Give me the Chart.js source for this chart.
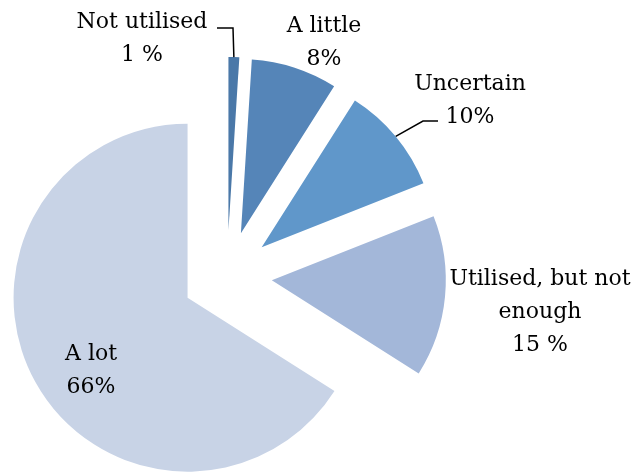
<!DOCTYPE html>
<html>
<head>
<meta charset="utf-8">
<script src="https://cdn.jsdelivr.net/npm/chart.js@4"></script>
<style>
  html, body { margin: 0; padding: 0; background: #ffffff; }
  #wrap { width: 636px; height: 472px; }
</style>
</head>
<body>
<div id="wrap"><canvas id="c" width="636" height="472"></canvas></div>
<script>
// Survey answers, in drawing order (clockwise from 12 o'clock)
const categories = ['Not utilised', 'A little', 'Uncertain', 'Utilised, but not enough', 'A lot'];
const shares = [1, 8, 10, 15, 66];
const valueLabels = ['1 %', '8%', '10%', '15 %', '66%'];
const nameLines = [['Not utilised'], ['A little'], ['Uncertain'], ['Utilised, but not', 'enough'], ['A lot']];
const sliceColors = ['#4A78A8', '#5585B8', '#6097CA', '#A3B7D9', '#C8D3E6'];

// Placement of each label block: centre x, first baseline y, optional leader-line path
const labelLayout = [
  { x: 142, y: 28, leader: [[217, 28], [233, 28]] },
  { x: 324, y: 32 },
  { x: 470, y: 90, leader: [[438, 121], [423, 121]] },
  { x: 540, y: 285 },
  { x: 91, y: 360 }
];

const EXPLODE = 45;          // distance every slice is pulled out from the centre
const LINE_HEIGHT = 33;
const FONT = '22px "DejaVu Serif", "Liberation Serif", serif';

function sliceDir(arc) {
  const mid = (arc.startAngle + arc.endAngle) / 2;
  return { cos: Math.cos(mid), sin: Math.sin(mid) };
}

// Draws each arc shifted outward along its bisector, keeping a common radius
const explodedSlices = {
  id: 'explodedSlices',
  beforeDatasetDraw(chart, args) {
    const ctx = chart.ctx;
    args.meta.data.forEach(arc => {
      const d = sliceDir(arc);
      ctx.save();
      ctx.translate(d.cos * EXPLODE, d.sin * EXPLODE);
      arc.draw(ctx);
      ctx.restore();
    });
    return false;
  }
};

// Category names with their percentages, plus leader lines where used
const sliceLabels = {
  id: 'sliceLabels',
  afterDatasetsDraw(chart) {
    const ctx = chart.ctx;
    const arcs = chart.getDatasetMeta(0).data;
    ctx.save();
    ctx.font = FONT;
    ctx.fillStyle = '#000000';
    ctx.textAlign = 'center';
    ctx.textBaseline = 'alphabetic';
    arcs.forEach((arc, i) => {
      const lay = labelLayout[i];
      const lines = nameLines[i].concat([valueLabels[i]]);
      lines.forEach((t, k) => ctx.fillText(t, lay.x, lay.y + k * LINE_HEIGHT));
      if (lay.leader) {
        const d = sliceDir(arc);
        const r = arc.outerRadius;
        const ex = arc.x + d.cos * (EXPLODE + r);
        const ey = arc.y + d.sin * (EXPLODE + r);
        ctx.beginPath();
        ctx.moveTo(lay.leader[0][0], lay.leader[0][1]);
        for (let p = 1; p < lay.leader.length; p++) ctx.lineTo(lay.leader[p][0], lay.leader[p][1]);
        ctx.lineTo(ex, ey);
        ctx.strokeStyle = '#000000';
        ctx.lineWidth = 1.5;
        ctx.stroke();
      }
    });
    ctx.restore();
  }
};

new Chart(document.getElementById('c'), {
  type: 'pie',
  data: {
    labels: categories,
    datasets: [{
      data: shares,
      backgroundColor: sliceColors,
      borderWidth: 0,
      radius: 174
    }]
  },
  options: {
    responsive: false,
    animation: false,
    layout: { padding: { left: 0, right: 182, top: 80, bottom: 0 } },
    plugins: {
      legend: { display: false },
      tooltip: { enabled: false }
    }
  },
  plugins: [explodedSlices, sliceLabels]
});
</script>
</body>
</html>
